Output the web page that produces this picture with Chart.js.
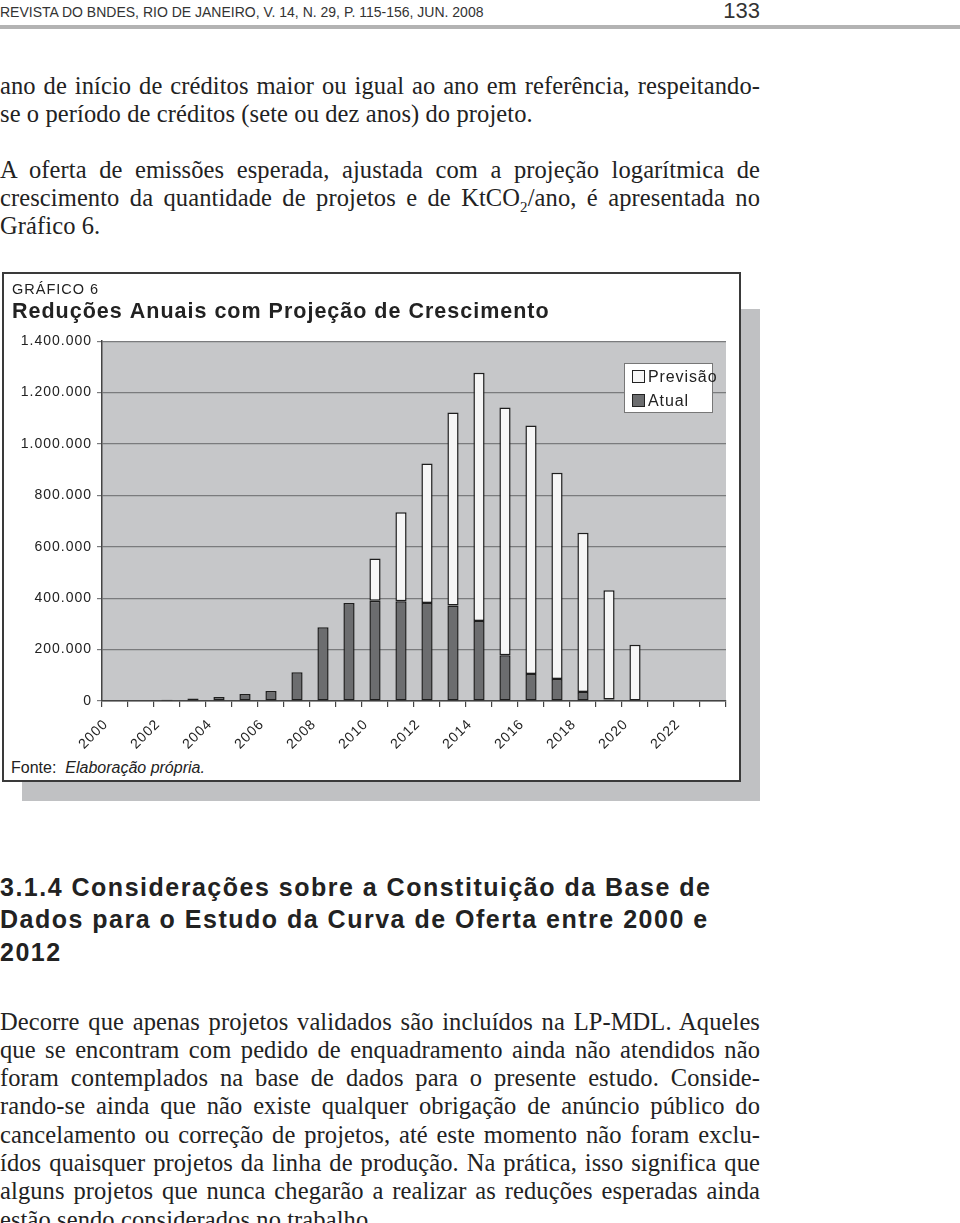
<!DOCTYPE html>
<html>
<head>
<meta charset="utf-8">
<script src="https://cdn.jsdelivr.net/npm/chart.js@4/dist/chart.umd.min.js"></script>
<style>
  html, body { margin: 0; padding: 0; }
  body { width: 960px; height: 1223px; background: #fff; position: relative; overflow: hidden; color: #222; }
  .hdr { position: absolute; left: 0; top: 5px; font: 14px/14px "Liberation Sans", Arial, sans-serif; color: #333; white-space: nowrap; }
  .pg { position: absolute; right: 200px; top: 0; font: 22px/22px "Liberation Sans", Arial, sans-serif; color: #333; }
  .rule { position: absolute; left: 0; top: 25px; width: 960px; height: 3.5px; background: #b3b3b3; }
  .par { position: absolute; left: 0; width: 760px; font: 24.5px/28.3px "Liberation Serif", "Times New Roman", serif; letter-spacing: 0.1px; color: #222; }
  .par div { white-space: nowrap; }
  .par .j { text-align: justify; text-align-last: justify; }
  .sub { font-size: 15px; position: relative; top: 6px; line-height: 0; }
  .head { position: absolute; left: 0; top: 870.5px; font: bold 25px/32.5px "Liberation Sans", Arial, sans-serif; letter-spacing: 1.5px; color: #222; }
  .shadow { position: absolute; left: 22px; top: 309px; width: 738px; height: 492px; background: #c0c1c3; }
  .box { position: absolute; left: 2px; top: 272px; width: 735px; height: 506px; border: 2px solid #3a3a3a; background: #fff; }
  #chart { position: absolute; left: 0; top: 0; }
  .fonte { position: absolute; left: 7px; top: 485px; font: 16px/18px "Liberation Sans", Arial, sans-serif; color: #222; white-space: nowrap; }
  .legend { position: absolute; left: 620px; top: 89px; width: 87px; height: 48px; border: 1px solid #777; background: #fff; }
  .legend .item { position: absolute; left: 7px; font: 16px/20px "Liberation Sans", Arial, sans-serif; letter-spacing: 0.9px; color: #222; white-space: nowrap; }
  .legend .sw { display: inline-block; width: 11px; height: 11px; border: 1px solid #222; vertical-align: -1px; margin-right: 3px; }
</style>
</head>
<body>
<div class="hdr">REVISTA DO BNDES, RIO DE JANEIRO, V. 14, N. 29, P. 115-156, JUN. 2008</div>
<div class="pg">133</div>
<div class="rule"></div>

<div class="par" style="top:71.5px">
  <div class="j">ano de início de créditos maior ou igual ao ano em referência, respeitando-</div>
  <div>se o período de créditos (sete ou dez anos) do projeto.</div>
</div>

<div class="par" style="top:155.5px">
  <div class="j">A oferta de emissões esperada, ajustada com a projeção logarítmica de</div>
  <div class="j">crescimento da quantidade de projetos e de KtCO<span class="sub">2</span>/ano, é apresentada no</div>
  <div>Gráfico 6.</div>
</div>

<div class="shadow"></div>
<div class="box">
  <canvas id="chart" width="735" height="480"></canvas>
  <div class="legend" id="legend"></div>
  <div class="fonte">Fonte:&nbsp; <i>Elaboração própria.</i></div>
</div>

<div class="head">
  <div>3.1.4 Considerações sobre a Constituição da Base de</div>
  <div>Dados para o Estudo da Curva de Oferta entre 2000 e</div>
  <div>2012</div>
</div>

<div class="par" style="top:1007.5px">
  <div class="j">Decorre que apenas projetos validados são incluídos na LP-MDL. Aqueles</div>
  <div class="j">que se encontram com pedido de enquadramento ainda não atendidos não</div>
  <div class="j">foram contemplados na base de dados para o presente estudo. Conside-</div>
  <div class="j">rando-se ainda que não existe qualquer obrigação de anúncio público do</div>
  <div class="j">cancelamento ou correção de projetos, até este momento não foram exclu-</div>
  <div class="j">ídos quaisquer projetos da linha de produção. Na prática, isso significa que</div>
  <div class="j">alguns projetos que nunca chegarão a realizar as reduções esperadas ainda</div>
  <div>estão sendo considerados no trabalho.</div>
</div>

<script>
// data
const years = ['2000', '2001', '2002', '2003', '2004', '2005', '2006', '2007', '2008', '2009', '2010', '2011',
               '2012', '2013', '2014', '2015', '2016', '2017', '2018', '2019', '2020', '2021', '2022', '2023'];
const xTickLabels = ['2000', '2002', '2004', '2006', '2008', '2010', '2012', '2014', '2016', '2018', '2020', '2022'];
const atual = [null, null, 5000, 10000, 15500, 27000, 39000, 111600, 286600, 381000, 390000, 388000,
               381000, 372000, 311000, 178000, 105000, 86000, 35000, 6000, null, null, null, null];
const previsao = [null, null, null, null, null, null, null, null, null, null, 164000, 346000,
                  543000, 751000, 966000, 964000, 967000, 802000, 620000, 424500, 219000, null, null, null];
const yTicks = [0, 200000, 400000, 600000, 800000, 1000000, 1200000, 1400000];

const font = '"Liberation Sans", Arial, sans-serif';
Chart.defaults.font.family = font;

function fmt(v) {
    return String(v).replace(/\B(?=(\d{3})+(?!\d))/g, '.');
}

// grey plot area like the excel original, and the slightly wide lettering of the print
const plotBg = {
    id: 'plotBg',
    beforeDraw(chart) {
        const { ctx, chartArea: a } = chart;
        ctx.letterSpacing = '1px';
        ctx.save();
        ctx.fillStyle = '#c6c7c9';
        ctx.fillRect(a.left, a.top, a.right - a.left, a.bottom - a.top);
        ctx.restore();
    }
};

const chart = new Chart(document.getElementById('chart').getContext('2d'), {
    type: 'bar',
    data: {
        labels: years,
        datasets: [{
            label: 'Atual',
            data: atual,
            backgroundColor: '#6c6d6f',
            borderColor: '#1e1e1e',
            borderWidth: 1.5,
            borderSkipped: false,
            stack: 's'
        }, {
            label: 'Previsão',
            data: previsao,
            backgroundColor: '#f6f6f6',
            borderColor: '#1e1e1e',
            borderWidth: 1.5,
            borderSkipped: false,
            stack: 's'
        }]
    },
    options: {
        responsive: false,
        animation: false,
        layout: { padding: { left: 8, right: 13, top: 0, bottom: 0 } },
        datasets: { bar: { categoryPercentage: 1, barPercentage: 0.43 } },
        plugins: {
            legend: { display: false },
            tooltip: { enabled: false },
            title: {
                display: true,
                text: 'GRÁFICO 6',
                align: 'start',
                color: '#222',
                font: { size: 14.5, weight: 'normal' },
                padding: { top: 7, bottom: 0 }
            },
            subtitle: {
                display: true,
                text: 'Reduções Anuais com Projeção de Crescimento',
                align: 'start',
                color: '#222',
                font: { size: 21.5, weight: 'bold' },
                padding: { top: 1, bottom: 16 }
            }
        },
        scales: {
            x: {
                stacked: true,
                grid: { drawOnChartArea: false, drawTicks: true, tickLength: 6, color: '#444', lineWidth: 1.2 },
                border: { color: '#444', width: 1.5 },
                ticks: {
                    autoSkip: false,
                    maxRotation: 45,
                    minRotation: 45,
                    padding: 9,
                    labelOffset: -9,
                    color: '#222',
                    font: { size: 14 },
                    callback: (v, i) => xTickLabels.includes(years[i]) ? years[i] : ''
                },
                afterFit: (s) => { s.height = 53; }
            },
            y: {
                stacked: true,
                min: yTicks[0],
                max: yTicks[yTicks.length - 1],
                ticks: {
                    stepSize: yTicks[1] - yTicks[0],
                    padding: 5,
                    color: '#222',
                    font: { size: 14 },
                    callback: (v) => fmt(v)
                },
                grid: { color: '#7a7b7d', lineWidth: 1.2, tickLength: 5 },
                border: { color: '#444', width: 1.5 },
                afterFit: (s) => { s.width = 90; }
            }
        }
    },
    plugins: [plotBg]
});

// legend box inside the plot, previsao on top
const legend = document.getElementById('legend');
chart.data.datasets.slice().reverse().forEach((ds, i) => {
    const item = document.createElement('div');
    item.className = 'item';
    item.style.top = (3 + i * 24) + 'px';
    const sw = document.createElement('span');
    sw.className = 'sw';
    sw.style.background = ds.backgroundColor;
    item.appendChild(sw);
    item.appendChild(document.createTextNode(ds.label));
    legend.appendChild(item);
});
</script>
</body>
</html>
